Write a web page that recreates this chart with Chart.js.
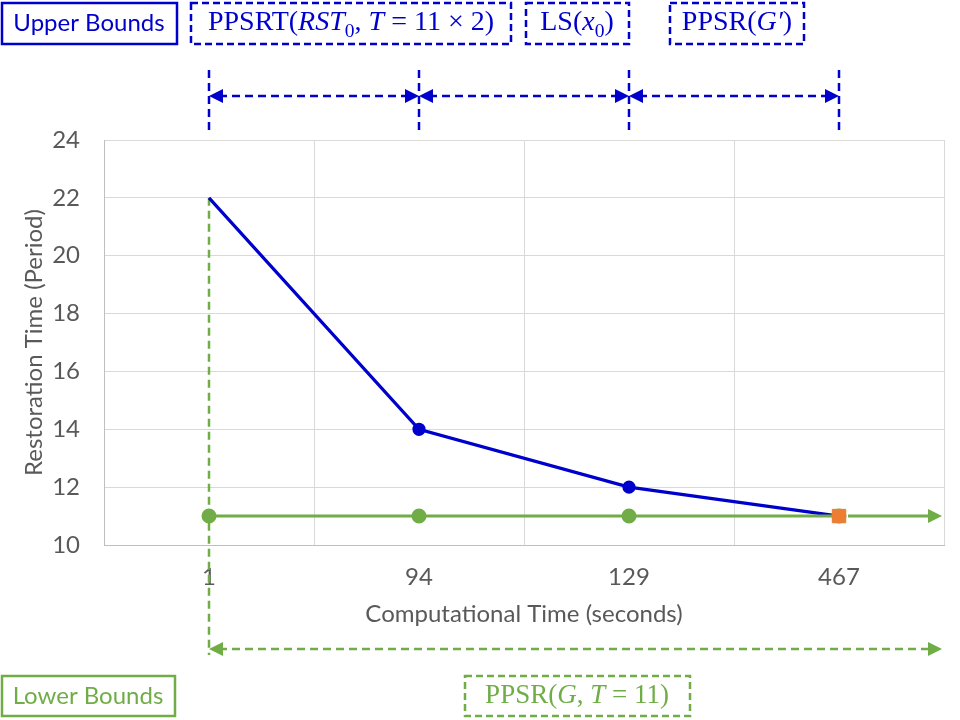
<!DOCTYPE html>
<html>
<head>
<meta charset="utf-8">
<script src="https://cdn.jsdelivr.net/npm/chart.js@4/dist/chart.umd.min.js"></script>
<style>
  html, body { margin: 0; padding: 0; background: #fff; }
  #wrap { width: 960px; height: 720px; }
</style>
</head>
<body>
<div id="wrap"><canvas id="c" width="960" height="720"></canvas></div>
<script>
/* ---------------- DATA ---------------- */
const categories = ["1", "94", "129", "467"];
const upperBound = [22, 14, 12, 11];
const lowerBound = [11, 11, 11, 11];
const finalPoint = [null, null, null, 11];
const yTicks     = [10, 12, 14, 16, 18, 20, 22, 24];

/* -------------- COLOURS --------------- */
const BLUE   = "#0000CC";
const GREEN  = "#70AD47";
const ORANGE = "#ED7D31";
const GREY   = "#595959";
const SANS   = "Lato, 'Open Sans', sans-serif";
const SERIF  = "'Liberation Serif', 'DejaVu Serif', serif";

/* ---------- drawing helpers ----------- */
function arrowHead(ctx, x, y, dir, color) {
  ctx.save();
  ctx.setLineDash([]);
  ctx.fillStyle = color;
  ctx.beginPath();
  ctx.moveTo(x, y);
  ctx.lineTo(x - dir * 14, y - 7);
  ctx.lineTo(x - dir * 14, y + 7);
  ctx.closePath();
  ctx.fill();
  ctx.restore();
}

function dashedArrow(ctx, x1, x2, y, color) {
  ctx.save();
  ctx.strokeStyle = color;
  ctx.lineWidth = 2.5;
  ctx.setLineDash([8, 5]);
  ctx.beginPath();
  ctx.moveTo(x1 + 10, y);
  ctx.lineTo(x2 - 10, y);
  ctx.stroke();
  ctx.restore();
  arrowHead(ctx, x1, y, -1, color);
  arrowHead(ctx, x2, y, 1, color);
}

function vDash(ctx, x, y1, y2, color) {
  ctx.save();
  ctx.strokeStyle = color;
  ctx.lineWidth = 2.5;
  ctx.setLineDash([8, 5]);
  ctx.beginPath();
  ctx.moveTo(x, y1);
  ctx.lineTo(x, y2);
  ctx.stroke();
  ctx.restore();
}

function box(ctx, x, y, w, h, color, dashed) {
  ctx.save();
  ctx.strokeStyle = color;
  ctx.lineWidth = 2.5;
  ctx.setLineDash(dashed ? [7, 4] : []);
  ctx.strokeRect(x, y, w, h);
  ctx.restore();
}

// runs: [text, italic?, subscript?]
function mathText(ctx, runs, cx, cy, size, color) {
  ctx.save();
  ctx.fillStyle = color;
  ctx.textBaseline = "middle";
  ctx.textAlign = "left";
  const fontOf = r => (r[1] ? "italic " : "") + (r[2] ? size * 0.7 : size) + "px " + SERIF;
  let total = 0;
  runs.forEach(r => { ctx.font = fontOf(r); total += ctx.measureText(r[0]).width; });
  let x = cx - total / 2;
  runs.forEach(r => {
    ctx.font = fontOf(r);
    ctx.fillText(r[0], x, cy + (r[2] ? size * 0.3 : 0));
    x += ctx.measureText(r[0]).width;
  });
  ctx.restore();
}

function plainText(ctx, text, cx, cy, size, color) {
  ctx.save();
  ctx.fillStyle = color;
  ctx.font = size + "px " + SANS;
  ctx.textAlign = "center";
  ctx.textBaseline = "middle";
  ctx.fillText(text, cx, cy);
  ctx.restore();
}

/* ---------- annotation plugin ---------- */
const annotations = {
  id: "annotations",
  beforeDatasetsDraw(chart) {
    const { ctx, scales: { x, y } } = chart;
    // green dashed drop from the first upper-bound point
    vDash(ctx, x.getPixelForValue(0), y.getPixelForValue(upperBound[0]), 655, GREEN);
  },
  afterDatasetsDraw(chart) {
    const { ctx, chartArea, scales: { x, y } } = chart;
    const px = categories.map((_, i) => x.getPixelForValue(i));

    // green arrow continuing the lower bound
    const yl = y.getPixelForValue(lowerBound[lowerBound.length - 1]);
    ctx.save();
    ctx.strokeStyle = GREEN;
    ctx.lineWidth = 3;
    ctx.beginPath();
    ctx.moveTo(px[3] + 9, yl);
    ctx.lineTo(chartArea.right - 12, yl);
    ctx.stroke();
    ctx.restore();
    arrowHead(ctx, chartArea.right - 2, yl, 1, GREEN);

    // top: upper bound intervals
    px.forEach(p => vDash(ctx, p, 70, 134, BLUE));
    for (let i = 0; i < px.length - 1; i++) dashedArrow(ctx, px[i], px[i + 1], 96, BLUE);

    // bottom: lower bound interval
    dashedArrow(ctx, px[0], chartArea.right - 2, 649, GREEN);

    // label boxes
    box(ctx, 2, 3, 175, 41, BLUE, false);
    plainText(ctx, "Upper Bounds", 89, 23, 24, BLUE);

    box(ctx, 191, 3, 320, 41, BLUE, true);
    mathText(ctx, [["PPSRT("], ["RST", 1], ["0", 0, 1], [", "], ["T", 1], [" = 11 × 2)"]], 351, 23, 28, BLUE);

    box(ctx, 526, 3, 103, 41, BLUE, true);
    mathText(ctx, [["LS("], ["x", 1], ["0", 0, 1], [")"]], 577, 23, 28, BLUE);

    box(ctx, 670, 3, 134, 41, BLUE, true);
    mathText(ctx, [["PPSR("], ["G′", 1], [")"]], 737, 23, 28, BLUE);

    box(ctx, 2, 676, 173, 40, GREEN, false);
    plainText(ctx, "Lower Bounds", 88, 696, 24, GREEN);

    box(ctx, 465, 676, 225, 40, GREEN, true);
    mathText(ctx, [["PPSR("], ["G", 1], [", "], ["T", 1], [" = 11)"]], 577, 696, 27, GREEN);
  }
};

/* ---------------- CHART ---------------- */
new Chart(document.getElementById("c"), {
  type: "line",
  data: {
    labels: categories,
    datasets: [
      {
        label: "Final",
        data: finalPoint,
        showLine: false,
        pointStyle: "rect",
        pointRadius: 9.5,
        pointHoverRadius: 9.5,
        backgroundColor: ORANGE,
        borderColor: ORANGE,
        borderWidth: 1,
        order: 0
      },
      {
        label: "Upper Bounds",
        data: upperBound,
        borderColor: BLUE,
        backgroundColor: BLUE,
        borderWidth: 3.2,
        pointRadius: [0, 5, 5, 5],
        tension: 0,
        order: 2
      },
      {
        label: "Lower Bounds",
        data: lowerBound,
        borderColor: GREEN,
        backgroundColor: GREEN,
        borderWidth: 3,
        pointRadius: 6,
        tension: 0,
        order: 1
      }
    ]
  },
  options: {
    responsive: false,
    animation: false,
    layout: { padding: { top: 140, bottom: 91, left: 0, right: 16 } },
    plugins: { legend: { display: false }, tooltip: { enabled: false } },
    scales: {
      x: {
        offset: true,
        grid: { color: "#D9D9D9", lineWidth: 1, drawTicks: false, offset: true },
        border: { color: "#BFBFBF" },
        ticks: { color: GREY, font: { family: SANS, size: 24 }, padding: 18 },
        title: {
          display: true, text: "Computational Time (seconds)",
          color: GREY, font: { family: SANS, size: 24 }, padding: 0
        },
        afterFit: s => { s.height = 84; }
      },
      y: {
        min: 10, max: 24,
        grid: { color: "#D9D9D9", lineWidth: 1, drawTicks: false },
        border: { color: "#BFBFBF" },
        afterBuildTicks: s => { s.ticks = yTicks.map(v => ({ value: v })); },
        ticks: { color: GREY, font: { family: SANS, size: 24 }, padding: 24 },
        title: {
          display: true, text: "Restoration Time (Period)",
          color: GREY, font: { family: SANS, size: 24 }, padding: { top: 20, bottom: 0 }
        },
        afterFit: s => { s.width = 104; }
      }
    }
  },
  plugins: [annotations]
});
</script>
</body>
</html>
